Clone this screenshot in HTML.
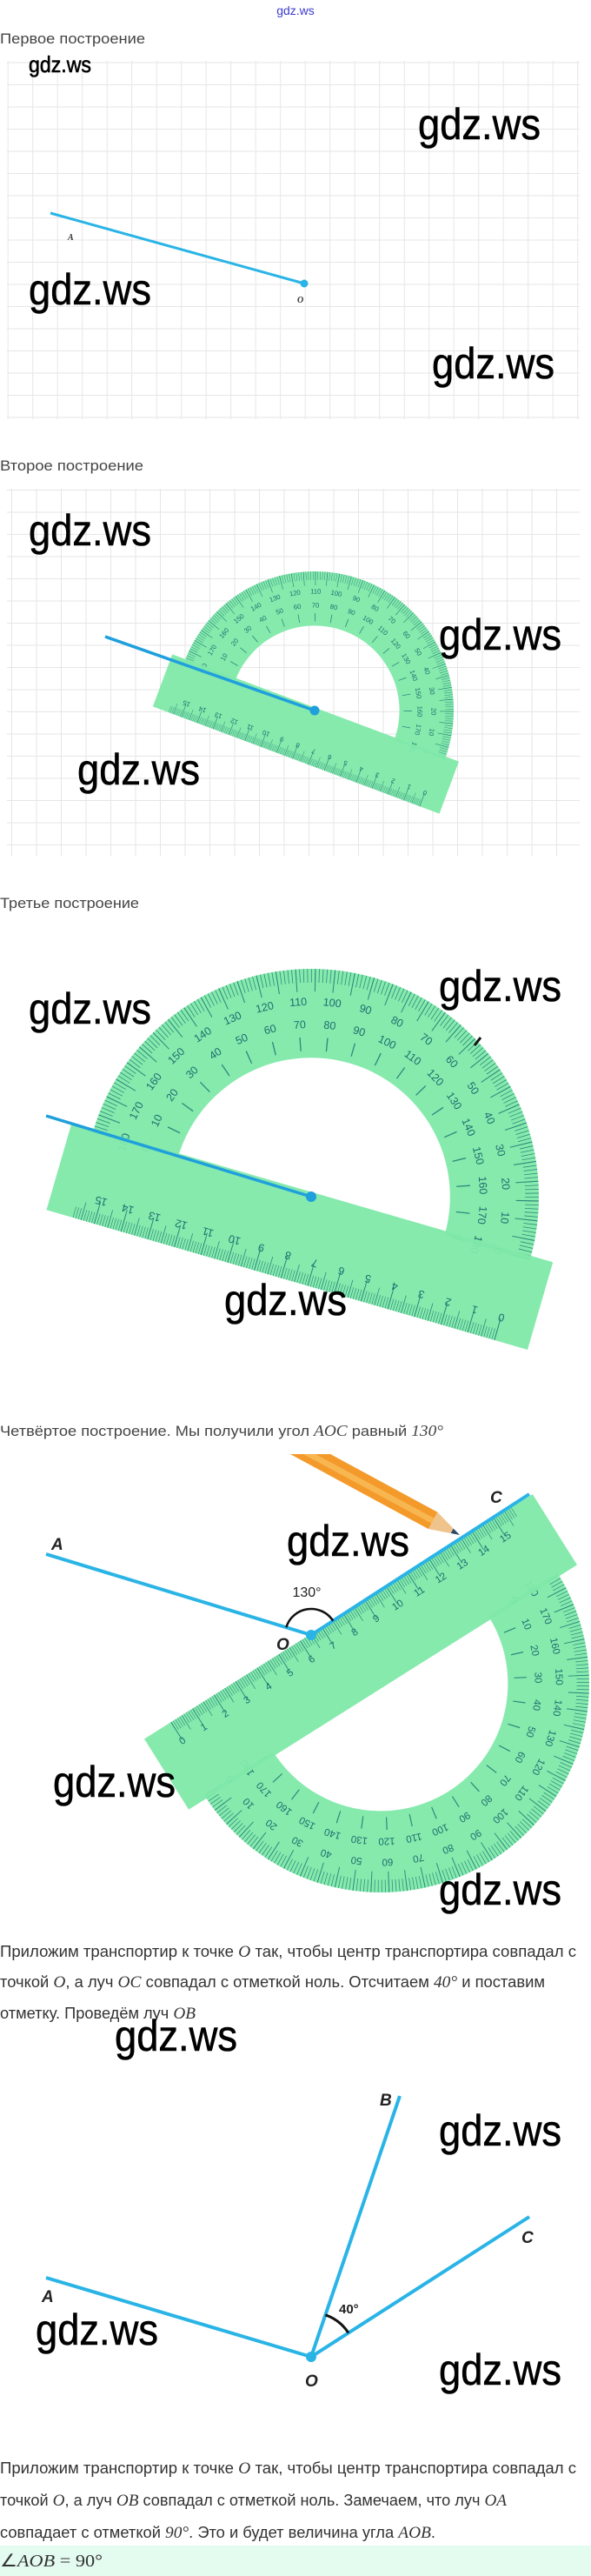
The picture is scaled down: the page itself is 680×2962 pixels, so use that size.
<!DOCTYPE html>
<html><head><meta charset="utf-8"><style>
html,body{margin:0;padding:0;background:#fff;}
svg{display:block;}
.t{font-family:"Liberation Sans",sans-serif;fill:#444;font-size:17px;}
.p{font-family:"Liberation Sans",sans-serif;fill:#333;font-size:18px;}
.m{font-family:"Liberation Serif",serif;font-style:italic;}
.w{font-family:"Liberation Sans",sans-serif;fill:#000;stroke:#000;stroke-width:0.6px;}
.lb{font-family:"Liberation Sans",sans-serif;font-weight:bold;font-style:italic;fill:#222;font-size:19px;}
.pn{font-family:"Liberation Sans",sans-serif;font-size:4.8px;fill:#1d6e6e;text-anchor:middle;}
</style></head><body>
<svg width="680" height="2962" viewBox="0 0 680 2962" xmlns="http://www.w3.org/2000/svg">
<defs>
<pattern id="g1" x="8.7" y="71.5" width="28.5" height="25.5" patternUnits="userSpaceOnUse">
<path d="M0 0 H28.5 M0 0 V25.5" stroke="#e6e6e6" stroke-width="2" fill="none"/></pattern>
<pattern id="g2" x="13" y="563" width="28.5" height="25.5" patternUnits="userSpaceOnUse">
<path d="M0 0 H28.5 M0 0 V25.5" stroke="#e6e6e6" stroke-width="2" fill="none"/></pattern>
<clipPath id="pc"><rect x="0" y="1672" width="680" height="200"/></clipPath>
<g id="prot">
<path d="M100 0 A100 100 0 0 0 -100 0 L-61 0 A61 61 0 0 1 61 0 Z" fill="#7fe9a9" fill-opacity="0.95"/>
<path d="M97 0 A97 97 0 0 0 -97 0" fill="none" stroke="#2b8a7c" stroke-width="6" stroke-dasharray="0.3 1.393"/>
<path d="M95 0 A95 95 0 0 0 -95 0" fill="none" stroke="#2b8a7c" stroke-width="10" stroke-dasharray="0.4 7.89"/>
<path d="M67 0 A67 67 0 0 0 -67 0" fill="none" stroke="#2b8a7c" stroke-width="6" stroke-dasharray="0.5 11.194"/>
<g class="pn">
<text transform="rotate(90) translate(0,-84)">0</text><text transform="rotate(90) translate(0,-74)">180</text>
<text transform="rotate(80) translate(0,-84)">10</text><text transform="rotate(80) translate(0,-74)">170</text>
<text transform="rotate(70) translate(0,-84)">20</text><text transform="rotate(70) translate(0,-74)">160</text>
<text transform="rotate(60) translate(0,-84)">30</text><text transform="rotate(60) translate(0,-74)">150</text>
<text transform="rotate(50) translate(0,-84)">40</text><text transform="rotate(50) translate(0,-74)">140</text>
<text transform="rotate(40) translate(0,-84)">50</text><text transform="rotate(40) translate(0,-74)">130</text>
<text transform="rotate(30) translate(0,-84)">60</text><text transform="rotate(30) translate(0,-74)">120</text>
<text transform="rotate(20) translate(0,-84)">70</text><text transform="rotate(20) translate(0,-74)">110</text>
<text transform="rotate(10) translate(0,-84)">80</text><text transform="rotate(10) translate(0,-74)">100</text>
<text transform="rotate(0) translate(0,-84)">90</text><text transform="rotate(0) translate(0,-74)">90</text>
<text transform="rotate(-10) translate(0,-84)">100</text><text transform="rotate(-10) translate(0,-74)">80</text>
<text transform="rotate(-20) translate(0,-84)">110</text><text transform="rotate(-20) translate(0,-74)">70</text>
<text transform="rotate(-30) translate(0,-84)">120</text><text transform="rotate(-30) translate(0,-74)">60</text>
<text transform="rotate(-40) translate(0,-84)">130</text><text transform="rotate(-40) translate(0,-74)">50</text>
<text transform="rotate(-50) translate(0,-84)">140</text><text transform="rotate(-50) translate(0,-74)">40</text>
<text transform="rotate(-60) translate(0,-84)">150</text><text transform="rotate(-60) translate(0,-74)">30</text>
<text transform="rotate(-70) translate(0,-84)">160</text><text transform="rotate(-70) translate(0,-74)">20</text>
<text transform="rotate(-80) translate(0,-84)">170</text><text transform="rotate(-80) translate(0,-74)">10</text>
<text transform="rotate(-90) translate(0,-84)">180</text><text transform="rotate(-90) translate(0,-74)">0</text>
</g>
<rect x="-110" y="-2" width="220" height="40" fill="#7fe9a9" fill-opacity="0.95"/>
<line x1="95" y1="35.5" x2="-98" y2="35.5" stroke="#2b8a7c" stroke-width="5" stroke-dasharray="0.25 0.97"/>
<line x1="95" y1="34" x2="-98" y2="34" stroke="#2b8a7c" stroke-width="8" stroke-dasharray="0.3 5.8"/>
<line x1="95" y1="33" x2="-98" y2="33" stroke="#2b8a7c" stroke-width="10" stroke-dasharray="0.35 11.85"/>
<g class="pn">
<text transform="translate(95,26) rotate(180)">0</text>
<text transform="translate(82.8,26) rotate(180)">1</text>
<text transform="translate(70.6,26) rotate(180)">2</text>
<text transform="translate(58.4,26) rotate(180)">3</text>
<text transform="translate(46.2,26) rotate(180)">4</text>
<text transform="translate(34,26) rotate(180)">5</text>
<text transform="translate(21.8,26) rotate(180)">6</text>
<text transform="translate(9.6,26) rotate(180)">7</text>
<text transform="translate(-2.6,26) rotate(180)">8</text>
<text transform="translate(-14.8,26) rotate(180)">9</text>
<text transform="translate(-27,26) rotate(180)">10</text>
<text transform="translate(-39.2,26) rotate(180)">11</text>
<text transform="translate(-51.4,26) rotate(180)">12</text>
<text transform="translate(-63.6,26) rotate(180)">13</text>
<text transform="translate(-75.8,26) rotate(180)">14</text>
<text transform="translate(-88,26) rotate(180)">15</text>
</g>
</g>
</defs>

<text x="340" y="17" text-anchor="middle" font-family="Liberation Sans, sans-serif" font-size="14" fill="#3a3ad0">gdz.ws</text>

<!-- Section 1 -->
<text class="t" x="0" y="50" textLength="167" lengthAdjust="spacingAndGlyphs">Первое построение</text>
<rect x="8" y="70" width="659" height="412" fill="url(#g1)"/>
<line x1="58" y1="245" x2="350" y2="326" stroke="#2ab4e6" stroke-width="3"/>
<circle cx="350" cy="326" r="4.5" fill="#2ab4e6"/>
<text x="78" y="276" font-family="Liberation Serif, serif" font-style="italic" font-weight="bold" font-size="10" fill="#333">A</text>
<text x="342" y="348" font-family="Liberation Serif, serif" font-style="italic" font-weight="bold" font-size="10" fill="#333">O</text>
<text class="w" x="33" y="83" style="font-size:26px" textLength="72" lengthAdjust="spacingAndGlyphs">gdz.ws</text>
<text class="w" x="481" y="160" style="font-size:50px" textLength="141" lengthAdjust="spacingAndGlyphs">gdz.ws</text>
<text class="w" x="33" y="350" style="font-size:50px" textLength="141" lengthAdjust="spacingAndGlyphs">gdz.ws</text>
<text class="w" x="497" y="435" style="font-size:50px" textLength="141" lengthAdjust="spacingAndGlyphs">gdz.ws</text>

<!-- Section 2 -->
<text class="t" x="0" y="541" textLength="165" lengthAdjust="spacingAndGlyphs">Второе построение</text>
<rect x="8" y="562" width="659" height="422" fill="url(#g2)"/>
<use href="#prot" transform="translate(362,817) rotate(20.5) scale(1.6)"/>
<line x1="121" y1="732" x2="362" y2="817" stroke="#1f9fdc" stroke-width="3.5"/>
<circle cx="362" cy="817" r="5.5" fill="#1f9fdc"/>
<text class="w" x="33" y="627" style="font-size:50px" textLength="141" lengthAdjust="spacingAndGlyphs">gdz.ws</text>
<text class="w" x="505" y="747" style="font-size:50px" textLength="141" lengthAdjust="spacingAndGlyphs">gdz.ws</text>
<text class="w" x="89" y="902" style="font-size:50px" textLength="141" lengthAdjust="spacingAndGlyphs">gdz.ws</text>

<!-- Section 3 -->
<text class="t" x="0" y="1044" textLength="160" lengthAdjust="spacingAndGlyphs">Третье построение</text>
<use href="#prot" transform="translate(358,1376) rotate(16.2) scale(2.62)"/>
<line x1="53" y1="1283" x2="358" y2="1376" stroke="#1f9fdc" stroke-width="3.5"/>
<circle cx="358" cy="1376" r="6" fill="#1f9fdc"/>
<line x1="546" y1="1202" x2="553" y2="1193" stroke="#111" stroke-width="3"/>
<text class="w" x="505" y="1151" style="font-size:50px" textLength="141" lengthAdjust="spacingAndGlyphs">gdz.ws</text>
<text class="w" x="33" y="1177" style="font-size:50px" textLength="141" lengthAdjust="spacingAndGlyphs">gdz.ws</text>
<text class="w" x="258" y="1512" style="font-size:50px" textLength="141" lengthAdjust="spacingAndGlyphs">gdz.ws</text>

<!-- Section 4 -->
<text class="t" x="0" y="1651" textLength="510" lengthAdjust="spacingAndGlyphs">Четвёртое построение. Мы получили угол <tspan class="m" font-size="18">AOC</tspan> равный <tspan class="m" font-size="18">130°</tspan></text>
<use href="#prot" transform="translate(438,1936) rotate(147.8) scale(2.4)"/>
<g clip-path="url(#pc)">
<polygon points="303.8,1655.7 314.2,1636.3 503.4,1738.7 493,1758.1" fill="#f39a2a"/>
<polygon points="308,1650 311,1644 500,1746 497,1752" fill="#f8b650"/>
<polygon points="493,1758.1 503.4,1738.7 521.7,1757.6 518.7,1763" fill="#efc48c"/>
<polygon points="518.7,1763 521.7,1757.6 529,1765" fill="#2a4a6a"/>
</g>
<polyline points="53,1787 358,1880 609,1718" fill="none" stroke="#2ab4e6" stroke-width="4"/>
<circle cx="358" cy="1880" r="6" fill="#2ab4e6"/>
<path d="M329.3 1871.2 A30 30 0 0 1 383.2 1863.7" fill="none" stroke="#111" stroke-width="2.5"/>
<text class="lb" x="59" y="1782">A</text>
<text class="lb" x="564" y="1728">C</text>
<text class="lb" x="318" y="1897">O</text>
<text x="353" y="1836" text-anchor="middle" font-family="Liberation Sans, sans-serif" font-size="16" fill="#222">130°</text>
<text class="w" x="330" y="1789" style="font-size:50px" textLength="141" lengthAdjust="spacingAndGlyphs">gdz.ws</text>
<text class="w" x="61" y="2066" style="font-size:50px" textLength="141" lengthAdjust="spacingAndGlyphs">gdz.ws</text>
<text class="w" x="505" y="2190" style="font-size:50px" textLength="141" lengthAdjust="spacingAndGlyphs">gdz.ws</text>

<!-- Section 5 -->
<text class="p" x="0" y="2250" textLength="663" lengthAdjust="spacingAndGlyphs">Приложим транспортир к точке <tspan class="m" font-size="19">O</tspan> так, чтобы центр транспортира совпадал с</text>
<text class="p" x="0" y="2285" textLength="627" lengthAdjust="spacingAndGlyphs">точкой <tspan class="m" font-size="19">O</tspan>, а луч <tspan class="m" font-size="19">OC</tspan> совпадал с отметкой ноль. Отсчитаем <tspan class="m" font-size="19">40°</tspan> и поставим</text>
<text class="p" x="0" y="2321" textLength="225" lengthAdjust="spacingAndGlyphs">отметку. Проведём луч <tspan class="m" font-size="19">OB</tspan></text>
<line x1="358" y1="2710" x2="53" y2="2619" stroke="#2ab4e6" stroke-width="4"/>
<line x1="358" y1="2710" x2="460" y2="2410" stroke="#2ab4e6" stroke-width="4"/>
<line x1="358" y1="2710" x2="609" y2="2549" stroke="#2ab4e6" stroke-width="4"/>
<circle cx="358" cy="2710" r="6" fill="#2ab4e6"/>
<path d="M374.4 2661.8 A51 51 0 0 1 400.9 2682.5" fill="none" stroke="#111" stroke-width="3"/>
<text class="lb" x="48" y="2647">A</text>
<text class="lb" x="437" y="2421">B</text>
<text class="lb" x="600" y="2579">C</text>
<text class="lb" x="351" y="2744">O</text>
<text x="390" y="2660" font-family="Liberation Sans, sans-serif" font-weight="bold" font-size="15" fill="#222">40°</text>
<text class="w" x="132" y="2358" style="font-size:50px" textLength="141" lengthAdjust="spacingAndGlyphs">gdz.ws</text>
<text class="w" x="505" y="2467" style="font-size:50px" textLength="141" lengthAdjust="spacingAndGlyphs">gdz.ws</text>
<text class="w" x="41" y="2696" style="font-size:50px" textLength="141" lengthAdjust="spacingAndGlyphs">gdz.ws</text>
<text class="w" x="505" y="2742" style="font-size:50px" textLength="141" lengthAdjust="spacingAndGlyphs">gdz.ws</text>

<text class="p" x="0" y="2844" textLength="663" lengthAdjust="spacingAndGlyphs">Приложим транспортир к точке <tspan class="m" font-size="19">O</tspan> так, чтобы центр транспортира совпадал с</text>
<text class="p" x="0" y="2881" textLength="583" lengthAdjust="spacingAndGlyphs">точкой <tspan class="m" font-size="19">O</tspan>, а луч <tspan class="m" font-size="19">OB</tspan> совпадал с отметкой ноль. Замечаем, что луч <tspan class="m" font-size="19">OA</tspan></text>
<text class="p" x="0" y="2918" textLength="501" lengthAdjust="spacingAndGlyphs">совпадает с отметкой <tspan class="m" font-size="19">90°</tspan>. Это и будет величина угла <tspan class="m" font-size="19">AOB</tspan>.</text>
<rect x="0" y="2927" width="680" height="35" fill="#e4fbef"/>
<text x="0" y="2951" font-family="Liberation Serif, serif" font-size="20" fill="#333" textLength="118" lengthAdjust="spacingAndGlyphs"><tspan>∠</tspan><tspan font-style="italic">AOB</tspan> = 90°</text>
</svg>
</body></html>
